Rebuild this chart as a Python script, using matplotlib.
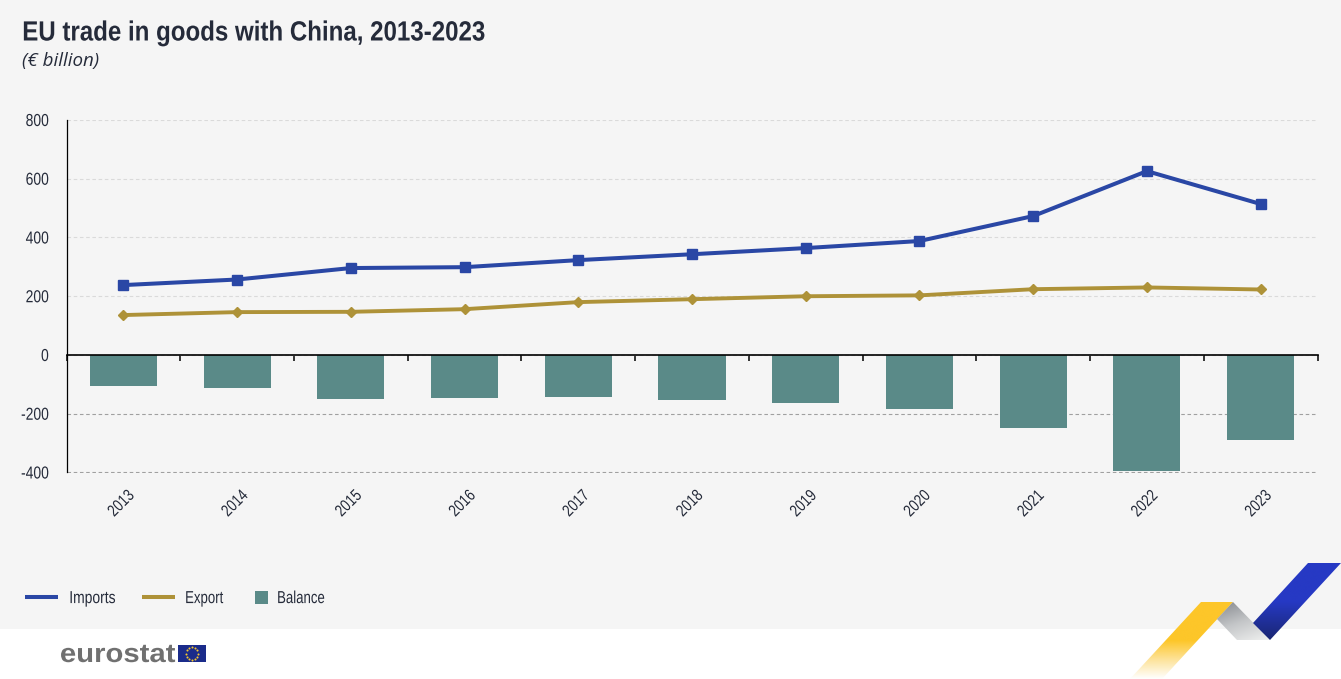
import numpy as np
import matplotlib
matplotlib.use("Agg")
import matplotlib.pyplot as plt
import matplotlib.patheffects as pe
from matplotlib.colors import LinearSegmentedColormap
from matplotlib.lines import Line2D
from matplotlib.patches import Patch, Polygon, Rectangle
from matplotlib.transforms import Affine2D

years = ["2013", "2014", "2015", "2016", "2017", "2018", "2019", "2020", "2021", "2022", "2023"]
imports = [238, 257, 296, 299, 323, 343, 364, 388, 473, 626, 514]
exports = [136, 146, 147, 156, 180, 190, 200, 203, 224, 230, 223]
balance = [-104, -112, -150, -145, -143, -154, -165, -184, -249, -396, -291]
y_ticks = [-400, -200, 0, 200, 400, 600, 800]

plt.rcParams["axes.unicode_minus"] = False
FONT = "Liberation Sans"
INK = "#252b3a"
BG = "#f5f5f5"
W, H = 1341, 679


class Condense(pe.AbstractPathEffect):
    """Draw a real text object with its glyphs narrowed along the baseline."""

    def __init__(self, sx, anchor=0.0, dx=0.0, dy=0.0):
        super().__init__()
        self.sx, self.anchor, self.dx, self.dy = sx, anchor, dx, dy

    def draw_path(self, renderer, gc, tpath, affine, rgbFace=None):
        ext = tpath.get_extents()
        a = ext.x0 + ext.width * self.anchor
        t = Affine2D().translate(-a, 0).scale(self.sx, 1).translate(a, 0) + affine
        t = t + Affine2D().translate(self.dx, self.dy)
        renderer.draw_path(gc, tpath, t, rgbFace)


fig = plt.figure(figsize=(W / 100, H / 100), dpi=100, facecolor="white")

# decoration layer in pixel coordinates
deco = fig.add_axes([0, 0, 1, 1], zorder=0)
deco.set_xlim(0, W)
deco.set_ylim(H, 0)
deco.axis("off")
deco.add_patch(Rectangle((0, 0), W, 629, fc=BG, ec="none"))


def gradient_poly(pts, colors, box, direction):
    cmap = LinearSegmentedColormap.from_list("g", colors)
    x0, x1, y0, y1 = box
    gx, gy = np.meshgrid(np.linspace(0, 1, 200), np.linspace(0, 1, 200))
    z = gx * direction[0] + gy * direction[1]
    z = (z - z.min()) / (z.max() - z.min())
    im = deco.imshow(z, extent=(x0, x1, y1, y0), cmap=cmap, origin="upper", aspect="auto", zorder=2)
    im.set_clip_path(Polygon(pts, closed=True, transform=deco.transData))


gradient_poly([(1201, 602), (1233, 602), (1162, 679), (1130, 679)],
              ["#fdc629", "#fdc629", "#fdc629", "#fde39a", "#ffffff"], (1130, 1233, 602, 679), (0, 1))
gradient_poly([(1233, 602), (1270, 640), (1237, 640), (1217, 619)],
              ["#85888d", "#c4c6c8", "#f0f1f0"], (1217, 1270, 602, 640), (0.5, 1))
gradient_poly([(1308, 563), (1341, 563), (1270, 640), (1253, 623)],
              ["#2639c4", "#2639c4", "#1a2672"], (1253, 1341, 563, 640), (0, 1))
deco.set_xlim(0, W)
deco.set_ylim(H, 0)

# eurostat logo
logo = deco.text(60, 662, "eurostat", fontsize=19, fontweight="bold", family=FONT,
                 color="#707070", va="baseline", ha="left")
logo.set_path_effects([Condense(1.11)])
deco.add_patch(Rectangle((178, 645), 28, 17, fc="#1a2b8a", ec="none", zorder=3))
ang = np.linspace(0, 2 * np.pi, 12, endpoint=False)
deco.scatter(192 + 6.2 * np.cos(ang), 653.5 + 6.2 * np.sin(ang), s=2.2, c="#f4c430", lw=0, zorder=4)

# titles
title = deco.text(22, 40.5, "EU trade in goods with China, 2013-2023", fontsize=20, fontweight="bold",
                  family=FONT, color=INK, va="baseline", ha="left")
title.set_path_effects([Condense(0.867)])
deco.text(22, 66, "(€ billion)", fontsize=13.5, style="italic", family="Open Sans",
          color=INK, va="baseline", ha="left")

# chart
left, right, top, bottom = 66.5, 1317.5, 120, 472.5
ax = fig.add_axes([left / W, 1 - bottom / H, (right - left) / W, (bottom - top) / H], zorder=1)
ax.patch.set_alpha(0)
x = np.arange(len(years))
ax.bar(x, balance, width=0.59, color="#5a8a88", zorder=2, label="Balance")
ax.plot(x, imports, color="#2a47a5", lw=2.9, marker="s", ms=7.8, zorder=3, label="Imports")
ax.plot(x, exports, color="#ae9238", lw=2.8, marker="D", ms=5.2, zorder=3, label="Export")

ax.set_xlim(-0.5, 10.5)
ax.set_ylim(-400, 800)
ax.set_yticks(y_ticks)
ax.yaxis.grid(True, lw=0.8, ls=(0, (3.2, 2.4)), zorder=0)
ax.set_axisbelow(True)
for val, gl in zip(y_ticks, ax.get_ygridlines()):
    gl.set_color("#a0a0a0" if val < 0 else "#dadada")
for s in ("top", "right"):
    ax.spines[s].set_visible(False)
ax.spines["left"].set_linewidth(0.9)
ax.spines["bottom"].set_position(("data", 0))
ax.spines["bottom"].set_linewidth(1.2)
ax.set_xticks(x)
ax.set_xticklabels(years, rotation=45, ha="center", va="top", family=FONT, fontsize=12, color=INK)
ax.set_xticks(np.arange(-0.5, 11), minor=True)
ax.tick_params(axis="x", which="major", length=0, pad=93.7)
ax.tick_params(axis="x", which="minor", length=4, width=1.1, color="black")
ax.tick_params(axis="y", length=0, pad=12.7)
for t in ax.get_xticklabels():
    t.set_path_effects([Condense(0.8, 0.5, dx=-2)])
for t in ax.get_yticklabels():
    t.set_family(FONT)
    t.set_fontsize(12.5)
    t.set_color(INK)
    t.set_path_effects([Condense(0.8, 1.0)])

handles = [Line2D([], [], color="#2a47a5", lw=2.9, solid_capstyle="butt"),
           Line2D([], [], color="#ae9238", lw=2.9, solid_capstyle="butt"),
           Patch(fc="#5a8a88", ec="none")]
leg = fig.legend(handles, ["Imports", "Export", "Balance"], ncols=3, frameon=False,
                 loc="center left", bbox_to_anchor=(25 / W, 1 - 598.5 / H),
                 prop={"family": FONT, "size": 12.5}, handlelength=1.9, handletextpad=0.63,
                 columnspacing=0.86, borderpad=0, borderaxespad=0)
for t, sx, dx in zip(leg.get_texts(), (0.8, 0.76, 0.76), (0, -1, -18)):
    t.set_color(INK)
    t.set_path_effects([Condense(sx, 0.0, dx=dx)])
sw = leg.legend_handles[2]
sw.set_width(9.4)
sw.set_height(9.4)
sw.set_x(2.9)
sw.set_y(-0.6)

fig.savefig("out.png", dpi=100, facecolor="white")
